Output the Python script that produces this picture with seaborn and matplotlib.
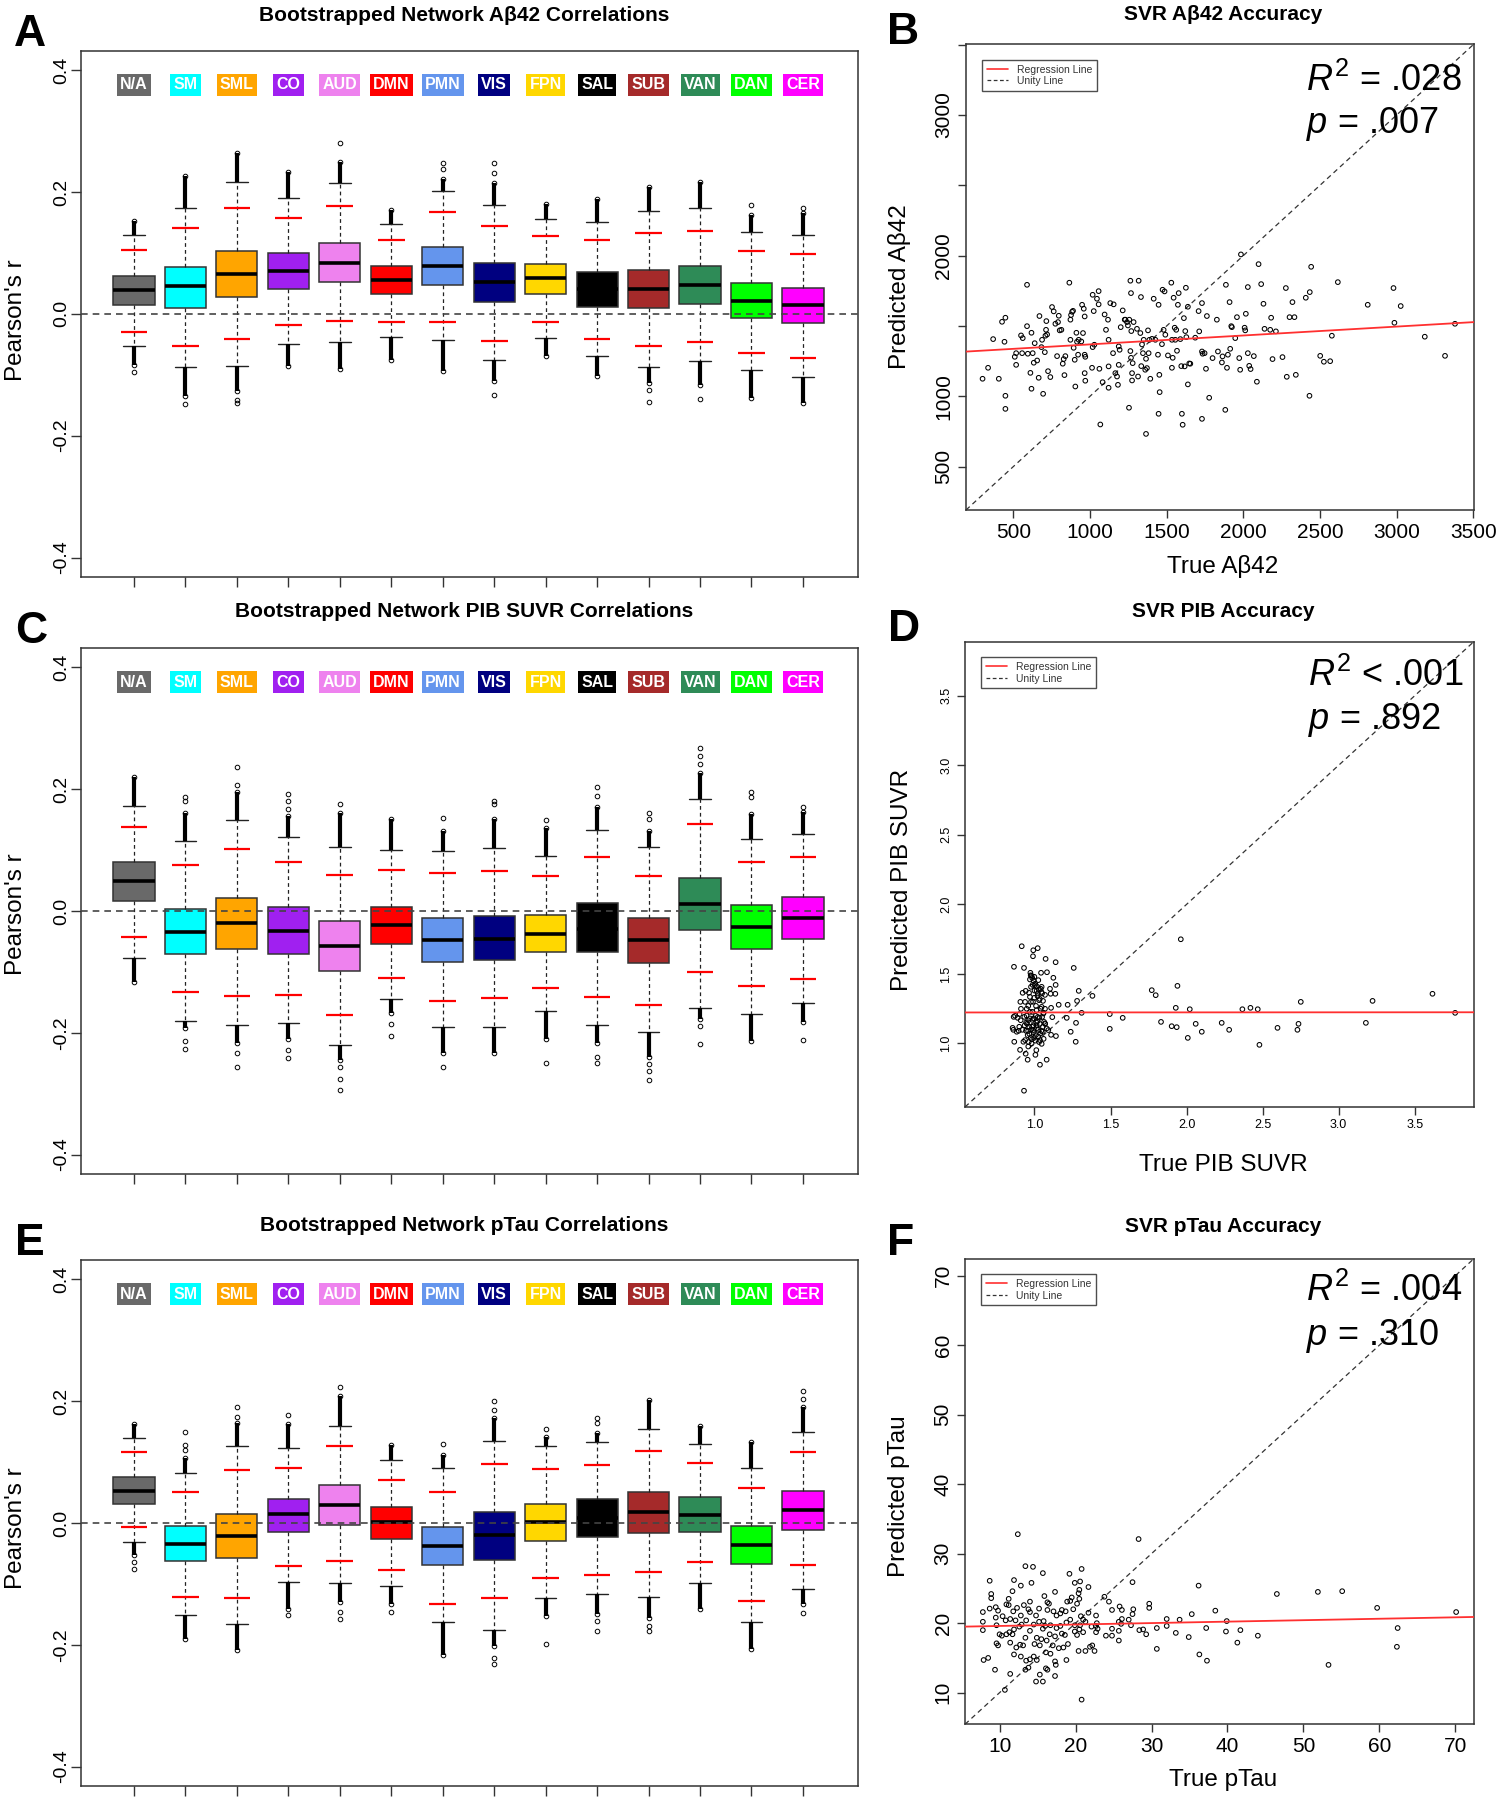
import numpy as np
import matplotlib
matplotlib.use("Agg")
import matplotlib.pyplot as plt
from matplotlib.lines import Line2D
import seaborn as sns

sns.set_style("ticks")
plt.rcParams['font.family'] = ['Liberation Sans', 'DejaVu Sans']
plt.rcParams['mathtext.fontset'] = 'custom'
plt.rcParams['mathtext.rm'] = 'Liberation Sans'
plt.rcParams['mathtext.it'] = 'Liberation Sans:italic'
plt.rcParams['text.color'] = 'black'

# network labels and colours
networks = ["N/A", "SM", "SML", "CO", "AUD", "DMN", "PMN", "VIS", "FPN", "SAL", "SUB", "VAN", "DAN", "CER"]
net_colors = ["#696969", "#00ffff", "#ffa500", "#a020f0", "#ee82ee", "#ff0000", "#6495ed",
              "#000080", "#ffd700", "#000000", "#a52a2a", "#2e8b57", "#00ff00", "#ff00ff"]

# panel A: bootstrapped network Abeta42 correlations
A_q3 = [0.062, 0.077, 0.103, 0.100, 0.117, 0.078, 0.109, 0.084, 0.082, 0.068, 0.072, 0.079, 0.050, 0.043]
A_med = [0.039, 0.045, 0.066, 0.071, 0.084, 0.056, 0.078, 0.052, 0.059, 0.040, 0.041, 0.048, 0.021, 0.014]
A_q1 = [0.015, 0.010, 0.027, 0.041, 0.052, 0.032, 0.048, 0.019, 0.033, 0.012, 0.009, 0.016, -0.007, -0.015]
A_whishi = [0.130, 0.174, 0.216, 0.191, 0.215, 0.148, 0.201, 0.178, 0.155, 0.151, 0.169, 0.173, 0.134, 0.130]
A_whislo = [-0.053, -0.087, -0.086, -0.049, -0.047, -0.038, -0.043, -0.076, -0.039, -0.070, -0.087, -0.077, -0.092, -0.104]
A_ci_hi = [0.105, 0.141, 0.174, 0.157, 0.177, 0.121, 0.167, 0.144, 0.128, 0.121, 0.133, 0.136, 0.103, 0.098]
A_ci_lo = [-0.029, -0.052, -0.042, -0.019, -0.012, -0.013, -0.013, -0.044, -0.014, -0.041, -0.053, -0.046, -0.064, -0.072]
A_fly_hi = [0.152, 0.227, 0.264, 0.233, 0.250, 0.171, 0.222, 0.215, 0.180, 0.189, 0.208, 0.216, 0.163, 0.165]
A_fly_lo = [-0.084, -0.135, -0.126, -0.085, -0.090, -0.076, -0.093, -0.111, -0.069, -0.102, -0.114, -0.116, -0.138, -0.147]
A_iso = [[-0.096], [-0.148], [-0.141, -0.147], [], [0.280], [], [0.248, 0.238], [0.247, 0.231, -0.133],
         [], [], [-0.125, -0.144], [-0.140], [0.179], [0.174]]

# panel C: bootstrapped network PIB SUVR correlations
C_q3 = [0.080, 0.004, 0.022, 0.006, -0.017, 0.006, -0.011, -0.009, -0.006, 0.013, -0.011, 0.054, 0.010, 0.023]
C_med = [0.049, -0.034, -0.019, -0.033, -0.058, -0.023, -0.048, -0.046, -0.038, -0.030, -0.048, 0.011, -0.027, -0.011]
C_q1 = [0.017, -0.071, -0.063, -0.071, -0.099, -0.054, -0.083, -0.081, -0.068, -0.067, -0.085, -0.031, -0.062, -0.046]
C_whishi = [0.173, 0.115, 0.149, 0.121, 0.105, 0.100, 0.099, 0.104, 0.091, 0.133, 0.105, 0.184, 0.118, 0.127]
C_whislo = [-0.078, -0.181, -0.188, -0.184, -0.220, -0.145, -0.190, -0.190, -0.164, -0.188, -0.199, -0.160, -0.169, -0.151]
C_ci_hi = [0.138, 0.075, 0.102, 0.081, 0.059, 0.067, 0.062, 0.065, 0.057, 0.089, 0.058, 0.143, 0.081, 0.089]
C_ci_lo = [-0.043, -0.133, -0.139, -0.138, -0.171, -0.110, -0.148, -0.143, -0.127, -0.142, -0.154, -0.100, -0.123, -0.111]
C_fly_hi = [0.220, 0.161, 0.196, 0.156, 0.161, 0.151, 0.131, 0.151, 0.136, 0.171, 0.131, 0.227, 0.159, 0.162]
C_fly_lo = [-0.117, -0.192, -0.217, -0.211, -0.245, -0.168, -0.233, -0.233, -0.211, -0.217, -0.239, -0.177, -0.214, -0.183]
C_iso = [[], [0.187, 0.181, -0.214, -0.226], [0.207, 0.236, -0.233, -0.257], [0.193, 0.181, 0.168, -0.228, -0.242],
         [0.176, -0.257, -0.276, -0.294], [-0.186, -0.205], [0.152, -0.256], [0.181, 0.175], [0.149, -0.250],
         [0.204, 0.189, -0.239, -0.250], [0.161, 0.151, -0.251, -0.263, -0.278], [0.267, 0.255, 0.241, -0.189, -0.218],
         [0.196, 0.188], [0.171, -0.212]]

# panel E: bootstrapped network pTau correlations
E_q3 = [0.075, -0.005, 0.014, 0.040, 0.062, 0.026, -0.006, 0.018, 0.032, 0.040, 0.051, 0.043, -0.005, 0.052]
E_med = [0.053, -0.034, -0.021, 0.014, 0.030, 0.001, -0.037, -0.020, 0.001, 0.008, 0.018, 0.013, -0.036, 0.021]
E_q1 = [0.032, -0.063, -0.058, -0.014, -0.004, -0.026, -0.069, -0.060, -0.030, -0.023, -0.017, -0.014, -0.067, -0.012]
E_whishi = [0.140, 0.082, 0.126, 0.123, 0.159, 0.104, 0.090, 0.135, 0.126, 0.133, 0.155, 0.129, 0.091, 0.150]
E_whislo = [-0.031, -0.151, -0.166, -0.097, -0.099, -0.103, -0.163, -0.175, -0.124, -0.116, -0.121, -0.099, -0.163, -0.108]
E_ci_hi = [0.116, 0.051, 0.087, 0.091, 0.127, 0.070, 0.051, 0.097, 0.089, 0.096, 0.119, 0.099, 0.057, 0.116]
E_ci_lo = [-0.007, -0.122, -0.124, -0.070, -0.063, -0.077, -0.133, -0.124, -0.090, -0.085, -0.081, -0.064, -0.128, -0.069]
E_fly_hi = [0.163, 0.107, 0.165, 0.162, 0.208, 0.128, 0.112, 0.172, 0.142, 0.148, 0.202, 0.159, 0.133, 0.190]
E_fly_lo = [-0.052, -0.190, -0.208, -0.141, -0.130, -0.133, -0.217, -0.202, -0.152, -0.149, -0.156, -0.141, -0.207, -0.133]
E_iso = [[-0.064, -0.075], [0.128, 0.120, 0.150], [0.174, 0.190], [0.177, -0.151], [0.224, -0.146, -0.157],
         [-0.147], [0.129], [0.200, 0.185, -0.221, -0.232], [0.155, -0.198], [0.172, 0.164, -0.161, -0.177],
         [-0.169, -0.177], [], [], [0.217, 0.203, -0.148]]

# panel B: SVR Abeta42 true vs predicted
b_true = [300, 336, 369, 406, 427, 449, 443, 449, 449, 510, 519, 519, 551, 562, 558, 590, 590, 595, 612, 619,
          619, 627, 634, 640, 656, 666, 671, 684, 688, 695, 706, 710, 714, 716, 721, 727, 742, 753, 764, 775,
          786, 792, 797, 803, 814, 823, 829, 834, 840, 866, 873, 877, 884, 890, 873, 894, 901, 905, 912, 916,
          923, 927, 944, 949, 955, 960, 966, 966, 970, 966, 970, 1014, 1018, 1025, 1029, 1018, 1046, 1057, 1057, 1062,
          1068, 1083, 1096, 1105, 1118, 1122, 1122, 1122, 1133, 1151, 1155, 1166, 1177, 1183, 1188, 1194, 1188, 1201, 1214, 1227,
          1231, 1242, 1248, 1257, 1255, 1264, 1268, 1264, 1268, 1270, 1275, 1275, 1279, 1285, 1307, 1314, 1318, 1329, 1333, 1335,
          1340, 1346, 1351, 1361, 1366, 1366, 1372, 1379, 1383, 1388, 1394, 1405, 1416, 1427, 1444, 1448, 1453, 1455, 1448, 1470,
          1474, 1481, 1487, 1492, 1509, 1531, 1535, 1535, 1540, 1546, 1553, 1557, 1563, 1568, 1574, 1579, 1590, 1596, 1600, 1605,
          1618, 1613, 1622, 1626, 1629, 1639, 1639, 1648, 1655, 1687, 1709, 1713, 1731, 1731, 1735, 1731, 1748, 1757, 1763, 1778,
          1800, 1828, 1835, 1861, 1865, 1883, 1887, 1894, 1900, 1911, 1915, 1922, 1926, 1948, 1959, 1974, 1980, 1985, 2009, 2013,
          2017, 2030, 2030, 2039, 2048, 2069, 2089, 2100, 2117, 2132, 2139, 2176, 2182, 2191, 2213, 2256, 2278, 2284, 2302, 2321,
          2334, 2343, 2408, 2434, 2432, 2443, 2502, 2526, 2567, 2578, 2617, 2812, 2980, 2986, 3027, 3184, 3316, 3381]
b_pred = [1125, 1203, 1407, 1125, 1530, 1559, 1388, 1004, 911, 1281, 1224, 1307, 1433, 1414, 1307, 1793, 1499, 1303, 1167, 1452,
          1054, 1307, 1239, 1378, 1255, 1132, 1571, 1350, 1402, 1018, 1314, 1431, 1473, 1535, 1440, 1179, 1137, 1635, 1604, 1516,
          1286, 1528, 1573, 1469, 1473, 1232, 1265, 1151, 1286, 1808, 1545, 1578, 1601, 1608, 1402, 1345, 1260, 1070, 1452, 1388,
          1296, 1402, 1390, 1651, 1450, 1623, 1568, 1296, 1281, 1165, 1111, 1203, 1350, 1606, 1367, 1722, 1694, 1748, 1654, 1196,
          800, 1101, 1582, 1473, 1545, 1402, 1213, 1061, 1663, 1307, 1654, 1165, 1141, 1082, 1355, 1331, 1224, 1492, 1611, 1545,
          1545, 1528, 1504, 1545, 919, 1822, 1734, 1322, 1274, 1464, 1165, 1113, 1236, 1528, 1480, 1141, 1822, 1450, 1706, 1215,
          1369, 1307, 1402, 1189, 1267, 733, 1201, 1469, 1307, 1402, 1125, 1409, 1694, 1402, 1296, 1651, 1153, 1030, 876, 1371,
          1758, 1473, 1746, 1438, 1291, 1808, 1402, 1203, 1274, 1701, 1488, 1402, 1473, 1324, 1651, 1734, 1407, 1215, 876, 798,
          1213, 1556, 1464, 1772, 1421, 1637, 1085, 1234, 1232, 1417, 1606, 1462, 1663, 1319, 1303, 840, 1307, 1196, 1571, 990,
          1272, 1545, 1319, 1241, 1284, 904, 1793, 1203, 1296, 1670, 1338, 1499, 1492, 1414, 1563, 1272, 1189, 2009, 1488, 1469,
          1587, 1307, 1777, 1217, 1194, 1286, 1104, 1940, 1798, 1658, 1480, 1473, 1559, 1265, 1462, 1279, 1770, 1139, 1563, 1670,
          1563, 1153, 1701, 1741, 1004, 1921, 1288, 1246, 1250, 1431, 1812, 1651, 1770, 1523, 1642, 1424, 1288, 1516]

# panel D: SVR PIB SUVR true vs predicted
d_true = [1.962, 1.771, 1.797, 1.940, 1.929, 2.021, 1.832, 1.902, 1.935, 2.008,
          2.060, 2.100, 2.231, 2.280, 2.367, 2.420, 2.468, 2.479, 2.598, 2.729,
          2.736, 2.751, 3.179, 3.223, 3.617, 3.766, 1.495, 1.495, 1.580, 1.381,
          1.310, 1.291, 1.280, 1.273, 1.271, 1.258, 1.238, 1.218, 1.212, 1.159,
          1.139, 1.139, 1.141, 1.137, 1.124, 1.117, 1.109, 1.109, 1.106, 1.102,
          1.082, 1.080, 1.073, 1.069, 1.069, 1.063, 1.060, 1.056, 1.054, 1.047,
          1.043, 1.041, 1.036, 1.032, 1.025, 1.021, 1.014, 1.012, 1.008, 1.006,
          0.999, 0.997, 0.992, 0.990, 0.988, 0.986, 0.984, 0.981, 0.977, 0.973,
          0.970, 0.966, 0.964, 0.959, 0.959, 0.955, 0.951, 0.949, 0.944, 0.942,
          0.942, 0.938, 0.933, 0.931, 0.931, 0.927, 0.922, 0.920, 0.916, 0.911,
          0.909, 0.907, 0.905, 0.902, 0.900, 0.896, 0.889, 0.883, 0.867, 0.865,
          0.863, 0.861, 0.856, 0.872, 1.003, 1.025, 1.047, 1.069, 1.091, 1.014,
          0.970, 0.992, 1.036, 0.959, 1.014, 1.058, 0.938, 0.981, 1.030, 0.999,
          1.021, 1.047, 1.080, 0.977, 0.975, 0.985, 0.995, 1.005, 1.015, 1.030,
          1.045, 1.050, 0.970, 1.000, 1.020, 1.035, 0.990, 1.010, 1.040, 1.060,
          1.050, 1.020, 0.995, 1.070, 0.945, 0.955, 0.965, 0.975, 0.985, 0.995,
          1.005, 1.015, 1.025, 1.035, 1.045, 1.055, 0.935, 0.948, 0.962, 0.978,
          0.992, 1.008, 1.022, 1.038, 0.958, 0.983, 1.012, 1.030, 0.970]
d_pred = [1.749, 1.383, 1.347, 1.414, 1.256, 1.246, 1.155, 1.124, 1.117, 1.040,
          1.141, 1.084, 1.148, 1.098, 1.246, 1.256, 1.246, 0.990, 1.112, 1.098,
          1.141, 1.299, 1.148, 1.306, 1.357, 1.220, 1.211, 1.105, 1.184, 1.342,
          1.220, 1.378, 1.306, 1.148, 1.012, 1.543, 1.084, 1.278, 1.184, 1.278,
          1.584, 1.421, 1.053, 1.357, 1.472, 1.189, 1.256, 1.062, 1.357, 1.393,
          1.512, 0.883, 1.608, 1.349, 1.249, 1.155, 1.033, 1.306, 1.084, 0.997,
          1.508, 1.393, 0.847, 1.184, 1.098, 1.685, 1.378, 0.952, 1.199, 0.918,
          1.328, 1.040, 1.670, 1.627, 1.421, 1.227, 1.120, 1.486, 1.299, 1.508,
          1.227, 1.069, 1.364, 1.270, 0.978, 0.883, 1.141, 1.249, 1.091, 1.378,
          0.926, 1.299, 1.191, 1.543, 0.660, 1.012, 1.364, 1.098, 1.699, 1.249,
          1.167, 1.299, 0.954, 1.211, 1.120, 1.091, 1.184, 1.084, 1.012, 1.551,
          1.191, 1.098, 1.112, 1.199, 1.419, 1.455, 1.263, 1.144, 1.096, 1.131,
          1.335, 1.096, 1.024, 1.167, 1.239, 1.215, 1.024, 1.000, 1.311, 1.479,
          1.359, 1.407, 1.108, 1.407, 1.49, 1.47, 1.45, 1.43, 1.41, 1.39,
          1.37, 1.36, 1.46, 1.38, 1.34, 1.32, 1.30, 1.27, 1.25, 1.22,
          1.19, 1.16, 1.18, 1.14, 1.15, 1.06, 1.12, 1.04, 1.17, 1.08,
          1.02, 1.11, 1.05, 1.14, 1.09, 1.12, 1.13, 1.20, 1.01, 1.10,
          1.13, 1.06, 1.19, 1.07, 1.09, 1.03, 1.15, 1.01, 1.18]

# panel F: SVR pTau true vs predicted
f_true = [12.4, 28.3, 13.4, 14.4, 15.7, 20.8, 19.2, 11.9, 8.7, 12.8,
          14.2, 11.7, 19.9, 20.6, 21.7, 20.5, 20.4, 27.5, 36.2, 46.5,
          51.9, 55.1, 59.7, 70.1, 8.9, 8.9, 17.3, 15.9, 11.2, 11.2,
          7.8, 8.7, 9.5, 9.8, 10.9, 11.8, 12.3, 12.8, 13.2, 13.8,
          14.0, 14.0, 14.8, 15.2, 16.3, 16.5, 16.3, 17.1, 17.5, 18.0,
          18.2, 18.7, 18.9, 19.3, 19.5, 19.7, 20.2, 20.5, 20.7, 21.0,
          21.7, 22.7, 22.8, 23.8, 24.4, 24.8, 25.8, 26.1, 25.7, 26.1,
          26.0, 27.0, 27.6, 27.5, 29.7, 29.7, 32.0, 33.7, 35.3, 38.4,
          39.9, 7.8, 9.5, 9.6, 10.4, 10.8, 11.4, 12.1, 12.9, 13.5,
          14.5, 15.2, 15.8, 16.0, 16.7, 17.5, 18.0, 18.8, 19.3, 19.9,
          20.6, 21.3, 22.1, 22.7, 7.8, 10.0, 10.3, 10.9, 11.3, 11.7,
          11.9, 12.6, 13.4, 14.0, 14.9, 15.7, 16.6, 17.3, 18.2, 18.6,
          19.9, 20.2, 20.5, 21.0, 22.7, 22.9, 24.0, 24.8, 24.8, 25.7,
          27.3, 28.4, 28.9, 29.3, 30.7, 32.0, 33.2, 34.9, 37.2, 39.8,
          41.7, 44.0, 9.6, 9.8, 11.4, 12.2, 12.7, 13.1, 14.6, 15.3,
          15.5, 16.2, 17.0, 17.8, 18.4, 19.0, 20.4, 21.3, 21.9, 22.2,
          22.5, 25.7, 30.7, 41.3, 62.4, 62.3, 11.9, 12.8, 7.9, 8.5,
          13.5, 14.0, 14.5, 14.9, 16.1, 16.7, 17.3, 17.4, 18.8, 13.4,
          13.8, 16.1, 16.3, 17.3, 15.3, 9.4, 11.4, 14.8, 15.7, 10.7,
          20.8, 36.3, 37.3, 53.3]
f_pred = [32.8, 32.1, 28.2, 28.1, 27.2, 27.8, 27.1, 26.2, 26.1, 25.4,
          25.8, 24.6, 25.8, 26.0, 25.2, 24.8, 24.3, 25.9, 25.4, 24.2,
          24.5, 24.6, 22.2, 21.6, 24.2, 23.6, 24.5, 23.9, 23.5, 22.6,
          21.6, 22.1, 22.3, 21.8, 22.7, 21.7, 22.2, 21.1, 22.6, 22.0,
          23.1, 21.6, 21.1, 22.1, 23.0, 22.8, 21.9, 21.7, 21.1, 21.4,
          21.9, 21.7, 23.1, 23.2, 23.7, 22.0, 22.8, 23.5, 21.0, 20.5,
          21.5, 21.1, 20.0, 23.8, 23.1, 21.9, 22.4, 21.9, 20.2, 20.6,
          19.9, 20.5, 22.0, 21.3, 22.8, 22.2, 20.6, 20.5, 21.3, 21.8,
          20.3, 20.2, 20.8, 19.7, 21.0, 20.4, 20.6, 20.4, 19.8, 20.4,
          19.8, 20.2, 20.3, 19.6, 19.7, 19.3, 19.6, 20.1, 20.5, 19.7,
          19.7, 20.2, 19.5, 19.6, 19.0, 18.4, 18.2, 18.4, 18.7, 18.4,
          19.1, 19.5, 17.9, 18.9, 17.9, 19.2, 18.4, 18.1, 18.5, 18.3,
          18.8, 18.3, 19.1, 18.7, 18.7, 19.2, 18.2, 18.2, 19.2, 18.9,
          19.7, 19.0, 19.1, 18.4, 19.3, 19.6, 18.6, 18.0, 19.3, 18.8,
          19.0, 18.2, 17.1, 16.8, 17.2, 16.5, 16.9, 16.8, 17.0, 16.8,
          17.7, 17.5, 16.8, 16.4, 16.5, 17.0, 16.0, 16.0, 16.6, 16.8,
          16.0, 17.5, 16.3, 17.2, 19.3, 16.6, 15.5, 15.2, 14.7, 15.0,
          14.6, 14.8, 15.2, 14.7, 15.8, 15.6, 14.5, 14.0, 14.7, 13.3,
          13.6, 13.5, 13.3, 12.4, 12.6, 13.3, 12.7, 11.6, 11.6, 10.4,
          9.0, 15.5, 14.6, 14.0]

W, H = 1504, 1800
fig = plt.figure(figsize=(W / 100, H / 100), dpi=100)
EDGE = '#333333'


def add_ax(l, t, r, b):
    return fig.add_axes([l / W, 1 - b / H, (r - l) / W, (b - t) / H])


def ftext(x, y, s, **kw):
    fig.text(x / W, 1 - y / H, s, **kw)


def style_frame(ax):
    for sp in ax.spines.values():
        sp.set_visible(True)
        sp.set_color(EDGE)
        sp.set_linewidth(1.1)


def box_panel(ax, q1, med, q3, wlo, whi, clo, chi, flo, fhi, iso):
    pos = np.arange(1, len(networks) + 1)
    stats = []
    for i in range(len(networks)):
        stats.append(dict(med=med[i], q1=q1[i], q3=q3[i], whislo=wlo[i], whishi=whi[i],
                          fliers=[flo[i], fhi[i]] + iso[i]))
    bp = ax.bxp(stats, positions=pos, widths=0.8, patch_artist=True, showfliers=True, capwidths=0.42,
                boxprops=dict(edgecolor=EDGE, linewidth=1.1),
                medianprops=dict(color='black', linewidth=2.6),
                whiskerprops=dict(color='#222222', linewidth=0.9, linestyle=(0, (3, 2.5))),
                capprops=dict(color='#222222', linewidth=1.0),
                flierprops=dict(marker='o', markerfacecolor='none', markeredgecolor='black',
                                markersize=3.3, markeredgewidth=0.7))
    for patch, c in zip(bp['boxes'], net_colors):
        patch.set_facecolor(c)
    # dense runs of outliers
    ax.vlines(pos, whi, fhi, color='black', lw=3.0, zorder=3)
    ax.vlines(pos, flo, wlo, color='black', lw=3.0, zorder=3)
    # 95% interval marks
    ax.hlines(chi, pos - 0.26, pos + 0.26, color='red', lw=1.6, zorder=4)
    ax.hlines(clo, pos - 0.26, pos + 0.26, color='red', lw=1.6, zorder=4)
    ax.axhline(0, color='#444444', lw=1.2, ls=(0, (4, 3)), zorder=6)
    for p, name, c in zip(pos, networks, net_colors):
        ax.text(p, 0.376, name, ha='center', va='center', color='white', fontsize=11.5,
                fontweight='bold', zorder=7,
                bbox=dict(boxstyle='square,pad=0.2', fc=c, ec='none'))
    ax.set_xlim(-0.03, 15.07)
    ax.set_ylim(-0.432, 0.432)
    ax.set_xticks(pos)
    ax.set_xticklabels([])
    ax.set_yticks([-0.4, -0.2, 0.0, 0.2, 0.4])
    ax.set_yticklabels(['-0.4', '-0.2', '0.0', '0.2', '0.4'], rotation=90, va='center')
    ax.tick_params(axis='y', length=7, width=1, pad=1, labelsize=14, color=EDGE, labelcolor='black')
    ax.tick_params(axis='x', length=7, width=1, color=EDGE)
    style_frame(ax)


def scatter_panel(ax, x, y, lims, ticks, ylabs, fs):
    ax.set_xlim(lims)
    ax.set_ylim(lims)
    ax.axline((lims[0], lims[0]), slope=1, color='#333333', lw=0.9, ls=(0, (4, 3)), zorder=1)
    sns.scatterplot(x=x, y=y, ax=ax, marker='o', s=11, facecolor='none', edgecolor='black',
                    linewidth=0.75, zorder=2)
    sns.regplot(x=np.array(x), y=np.array(y), ax=ax, scatter=False, ci=None, truncate=False,
                color='#ff3030', line_kws=dict(lw=1.3, zorder=3))
    ax.set_xlim(lims)
    ax.set_ylim(lims)
    ax.set_xticks(ticks)
    ax.set_xticklabels([str(t) for t in ticks])
    ax.set_yticks(ticks)
    ax.set_yticklabels(ylabs, rotation=90, va='center')
    ax.tick_params(length=6, width=1, pad=3, labelsize=fs, color=EDGE, labelcolor='black')
    ax.set_xlabel('')
    ax.set_ylabel('')
    style_frame(ax)
    handles = [Line2D([], [], color='#ff3030', lw=1.2),
               Line2D([], [], color='#333333', lw=0.9, ls=(0, (3, 2)))]
    leg = ax.legend(handles, ['Regression Line', 'Unity Line'], loc='upper left',
                    bbox_to_anchor=(0.0315, 0.966), fontsize=7.5, frameon=True, fancybox=False,
                    edgecolor='#222222', borderpad=0.45, labelspacing=0.15, handlelength=2.0,
                    handletextpad=0.9, borderaxespad=0)
    leg.get_frame().set_linewidth(1.0)
    for t in leg.get_texts():
        t.set_color('#333333')


# left column: boxplots
axA = add_ax(81, 50.7, 858, 577)
box_panel(axA, A_q1, A_med, A_q3, A_whislo, A_whishi, A_ci_lo, A_ci_hi, A_fly_lo, A_fly_hi, A_iso)
axC = add_ax(81, 648, 858, 1174)
box_panel(axC, C_q1, C_med, C_q3, C_whislo, C_whishi, C_ci_lo, C_ci_hi, C_fly_lo, C_fly_hi, C_iso)
axE = add_ax(81, 1260, 858, 1786)
box_panel(axE, E_q1, E_med, E_q3, E_whislo, E_whishi, E_ci_lo, E_ci_hi, E_fly_lo, E_fly_hi, E_iso)

# right column: SVR accuracy
b_ticks = [500, 1000, 1500, 2000, 2500, 3000, 3500]
b_ylabels = ['500', '1000', '', '2000', '', '3000', '']
d_ticks = [1.0, 1.5, 2.0, 2.5, 3.0, 3.5]
f_ticks = [10, 20, 30, 40, 50, 60, 70]

axB = add_ax(966, 44, 1474, 510)
scatter_panel(axB, b_true, b_pred, (192, 3505), b_ticks, b_ylabels, 15)
axD = add_ax(965, 641.5, 1474, 1107)
scatter_panel(axD, d_true, d_pred, (0.543, 3.89), d_ticks, [str(t) for t in d_ticks], 9)
axF = add_ax(965, 1258.6, 1474, 1724.3)
scatter_panel(axF, f_true, f_pred, (5.45, 72.45), f_ticks, [str(t) for t in f_ticks], 15)

# titles
ftext(464, 21, 'Bootstrapped Network A\u03b242 Correlations', ha='center', va='baseline', fontsize=15, fontweight='bold')
ftext(464, 617, 'Bootstrapped Network PIB SUVR Correlations', ha='center', va='baseline', fontsize=15, fontweight='bold')
ftext(464, 1231.4, 'Bootstrapped Network pTau Correlations', ha='center', va='baseline', fontsize=15, fontweight='bold')
ftext(1223, 20.3, 'SVR A\u03b242 Accuracy', ha='center', va='baseline', fontsize=15, fontweight='bold')
ftext(1223.5, 617, 'SVR PIB Accuracy', ha='center', va='baseline', fontsize=15, fontweight='bold')
ftext(1223, 1232.5, 'SVR pTau Accuracy', ha='center', va='baseline', fontsize=15, fontweight='bold')

# panel letters
for letter, x, y in [('A', 14, 46), ('B', 887, 44), ('C', 15, 643), ('D', 888, 641), ('E', 15, 1255), ('F', 887, 1255)]:
    ftext(x, y, letter, ha='left', va='baseline', fontsize=32, fontweight='bold')

# axis labels
for y in [320, 914, 1528]:
    ftext(16, y, "Pearson's r", rotation=90, ha='center', va='center', fontsize=17.5)
ftext(899, 287, 'Predicted A\u03b242', rotation=90, ha='center', va='center', fontsize=17.5)
ftext(902, 880, 'Predicted PIB SUVR', rotation=90, ha='center', va='center', fontsize=17.5)
ftext(899, 1496, 'Predicted pTau', rotation=90, ha='center', va='center', fontsize=17.5)
ftext(1223, 567, 'True A\u03b242', ha='center', va='center', fontsize=17.5)
ftext(1223, 1165, 'True PIB SUVR', ha='center', va='center', fontsize=17.5)
ftext(1223, 1780, 'True pTau', ha='center', va='center', fontsize=17.5)

# fit statistics
ftext(1306, 90.6, r'$R^2$ = .028', ha='left', va='baseline', fontsize=26)
ftext(1306, 133, r'$p$ = .007', ha='left', va='baseline', fontsize=26)
ftext(1308, 686, r'$R^2$ < .001', ha='left', va='baseline', fontsize=26)
ftext(1308, 729, r'$p$ = .892', ha='left', va='baseline', fontsize=26)
ftext(1306, 1301.4, r'$R^2$ = .004', ha='left', va='baseline', fontsize=26)
ftext(1306, 1344.7, r'$p$ = .310', ha='left', va='baseline', fontsize=26)

fig.savefig('out.png', dpi=100)
